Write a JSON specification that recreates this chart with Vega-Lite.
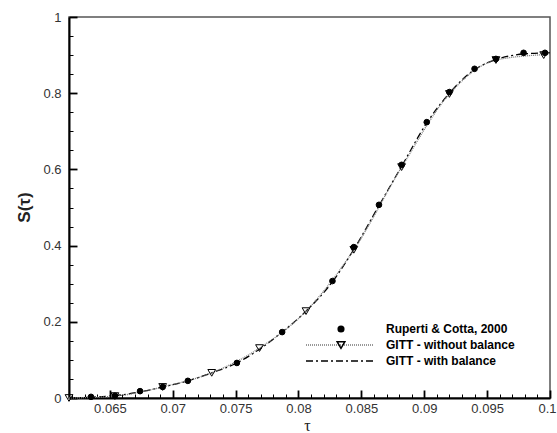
{
  "$schema": "https://vega.github.io/schema/vega-lite/v6.json",
  "width": 481,
  "height": 381,
  "autosize": {"type": "none"},
  "padding": {"left": 69, "top": 17, "right": 7, "bottom": 35},
  "background": "white",
  "config": {"view": {"stroke": "#555", "strokeWidth": 1.5}, "font": "Liberation Sans"},
  "datasets": {
    "lines": [
      {"series": "GITT - with balance", "tau": 0.06175, "S": 0.0},
      {"series": "GITT - with balance", "tau": 0.0635, "S": 0.002},
      {"series": "GITT - with balance", "tau": 0.0654, "S": 0.006},
      {"series": "GITT - with balance", "tau": 0.0674, "S": 0.016},
      {"series": "GITT - with balance", "tau": 0.0692, "S": 0.029},
      {"series": "GITT - with balance", "tau": 0.0712, "S": 0.045},
      {"series": "GITT - with balance", "tau": 0.0731, "S": 0.066},
      {"series": "GITT - with balance", "tau": 0.0751, "S": 0.092},
      {"series": "GITT - with balance", "tau": 0.0769, "S": 0.128},
      {"series": "GITT - with balance", "tau": 0.0787, "S": 0.173},
      {"series": "GITT - with balance", "tau": 0.0806, "S": 0.228},
      {"series": "GITT - with balance", "tau": 0.0827, "S": 0.305},
      {"series": "GITT - with balance", "tau": 0.0844, "S": 0.39},
      {"series": "GITT - with balance", "tau": 0.0864, "S": 0.505},
      {"series": "GITT - with balance", "tau": 0.0882, "S": 0.608},
      {"series": "GITT - with balance", "tau": 0.0902, "S": 0.722},
      {"series": "GITT - with balance", "tau": 0.092, "S": 0.8},
      {"series": "GITT - with balance", "tau": 0.094, "S": 0.862},
      {"series": "GITT - with balance", "tau": 0.0957, "S": 0.888},
      {"series": "GITT - with balance", "tau": 0.0979, "S": 0.903},
      {"series": "GITT - with balance", "tau": 0.1, "S": 0.906},
      {"series": "GITT - without balance", "tau": 0.06175, "S": 0.0},
      {"series": "GITT - without balance", "tau": 0.0654, "S": 0.005},
      {"series": "GITT - without balance", "tau": 0.0692, "S": 0.029},
      {"series": "GITT - without balance", "tau": 0.0731, "S": 0.066},
      {"series": "GITT - without balance", "tau": 0.0769, "S": 0.131},
      {"series": "GITT - without balance", "tau": 0.0806, "S": 0.228},
      {"series": "GITT - without balance", "tau": 0.0844, "S": 0.389},
      {"series": "GITT - without balance", "tau": 0.0882, "S": 0.606},
      {"series": "GITT - without balance", "tau": 0.092, "S": 0.798},
      {"series": "GITT - without balance", "tau": 0.0957, "S": 0.887},
      {"series": "GITT - without balance", "tau": 0.1, "S": 0.902}
    ],
    "points": [
      {"code": "R", "tau": 0.0635, "S": 0.003},
      {"code": "R", "tau": 0.0654, "S": 0.006},
      {"code": "R", "tau": 0.0674, "S": 0.018},
      {"code": "R", "tau": 0.0692, "S": 0.029},
      {"code": "R", "tau": 0.0712, "S": 0.045},
      {"code": "R", "tau": 0.0751, "S": 0.092},
      {"code": "R", "tau": 0.0787, "S": 0.173},
      {"code": "R", "tau": 0.0827, "S": 0.307},
      {"code": "R", "tau": 0.0844, "S": 0.396},
      {"code": "R", "tau": 0.0864, "S": 0.507},
      {"code": "R", "tau": 0.0882, "S": 0.612},
      {"code": "R", "tau": 0.0902, "S": 0.724},
      {"code": "R", "tau": 0.092, "S": 0.803},
      {"code": "R", "tau": 0.094, "S": 0.864},
      {"code": "R", "tau": 0.0957, "S": 0.89},
      {"code": "R", "tau": 0.0979, "S": 0.906},
      {"code": "R", "tau": 0.0996, "S": 0.906},
      {"code": "W", "tau": 0.06175, "S": 0.0},
      {"code": "W", "tau": 0.0654, "S": 0.005},
      {"code": "W", "tau": 0.0692, "S": 0.029},
      {"code": "W", "tau": 0.0731, "S": 0.066},
      {"code": "W", "tau": 0.0769, "S": 0.131},
      {"code": "W", "tau": 0.0806, "S": 0.228},
      {"code": "W", "tau": 0.0844, "S": 0.389},
      {"code": "W", "tau": 0.0882, "S": 0.606},
      {"code": "W", "tau": 0.092, "S": 0.798},
      {"code": "W", "tau": 0.0957, "S": 0.887},
      {"code": "W", "tau": 0.0995, "S": 0.9}
    ]
  },
  "encoding": {
    "x": {
      "field": "tau", "type": "quantitative",
      "scale": {"domain": [0.06175, 0.1], "nice": false, "zero": false},
      "axis": {
        "values": [0.062,0.063,0.064,0.065,0.066,0.067,0.068,0.069,0.07,0.071,0.072,0.073,0.074,0.075,0.076,0.077,0.078,0.079,0.08,0.081,0.082,0.083,0.084,0.085,0.086,0.087,0.088,0.089,0.09,0.091,0.092,0.093,0.094,0.095,0.096,0.097,0.098,0.099,0.1],
        "labelExpr": "round(datum.value*1000) % 5 == 0 ? format(datum.value, '~g') : ''",
        "labelOverlap": false, "labelFlush": true, "labelFlushOffset": 6, "labelBound": false,
        "tickSize": {"condition": {"test": "round(datum.value*1000) % 5 == 0", "value": -8}, "value": -4},
        "tickWidth": {"condition": {"test": "round(datum.value*1000) % 5 == 0", "value": 1.8}, "value": 1},
        "tickColor": "black",
        "domainColor": "black", "domainWidth": 2,
        "grid": false,
        "labelFont": "Liberation Sans", "labelFontSize": 13, "labelColor": "#333",
        "labelPadding": 12,
        "title": "τ", "titleFont": "Liberation Serif", "titleFontSize": 16, "titleFontWeight": "normal", "titleColor": "#222",
        "titleX": 238, "titleY": 27, "titleBaseline": "middle", "titleAlign": "center"
      }
    },
    "y": {
      "field": "S", "type": "quantitative",
      "scale": {"domain": [0, 1], "nice": false, "zero": false},
      "axis": {
        "values": [0,0.05,0.1,0.15,0.2,0.25,0.3,0.35,0.4,0.45,0.5,0.55,0.6,0.65,0.7,0.75,0.8,0.85,0.9,0.95,1],
        "labelExpr": "round(datum.value*100) % 20 == 0 ? format(datum.value, '~g') : ''",
        "labelOverlap": false, "labelFlush": false, "labelBound": false,
        "tickSize": {"condition": {"test": "round(datum.value*100) % 20 == 0", "value": -8}, "value": -4},
        "tickWidth": {"condition": {"test": "round(datum.value*100) % 20 == 0", "value": 1.8}, "value": 1},
        "tickColor": "black",
        "domainColor": "black", "domainWidth": 2,
        "grid": false,
        "labelFont": "Liberation Sans", "labelFontSize": 13, "labelColor": "#333",
        "labelPadding": 16,
        "title": "S(τ)", "titleFont": "Liberation Sans", "titleFontSize": 17, "titleFontWeight": "bold", "titleColor": "#222",
        "titleX": -45, "titleY": 190, "titleBaseline": "middle", "titleAlign": "center", "titleAngle": -90
      }
    }
  },
  "layer": [
    {
      "data": {"name": "lines"},
      "mark": {"type": "line", "interpolate": "monotone", "strokeWidth": 1.3},
      "encoding": {
        "color": {
          "field": "series", "type": "nominal",
          "scale": {"domain": ["Ruperti & Cotta, 2000", "GITT - without balance", "GITT - with balance"], "range": ["black", "#777777", "black"]},
          "legend": {"orient": "none", "legendX": 236, "legendY": 304, "title": null, "symbolType": "stroke", "symbolSize": 4624, "symbolStrokeWidth": 1.3, "labelFont": "Liberation Sans", "labelFontSize": 12, "labelFontWeight": "bold", "labelColor": "black", "labelOffset": 11, "clipHeight": 16, "rowPadding": 0, "padding": 0, "labelLimit": 300}
        },
        "strokeDash": {
          "field": "series", "type": "nominal",
          "scale": {"domain": ["Ruperti & Cotta, 2000", "GITT - without balance", "GITT - with balance"], "range": [[0, 100], [1, 1], [7, 3, 2, 3]]},
          "legend": {"orient": "none", "legendX": 236, "legendY": 304, "title": null, "symbolType": "stroke", "symbolSize": 4624, "symbolStrokeWidth": 1.3, "labelFont": "Liberation Sans", "labelFontSize": 12, "labelFontWeight": "bold", "labelColor": "black", "labelOffset": 11, "clipHeight": 16, "rowPadding": 0, "padding": 0, "labelLimit": 300}
        }
      }
    },
    {
      "data": {"name": "points"},
      "mark": {"type": "point", "filled": true, "stroke": "black", "strokeWidth": 1, "opacity": 1, "clip": false},
      "encoding": {
        "shape": {
          "field": "code", "type": "nominal",
          "scale": {"domain": ["R", "W", "B"], "range": ["circle", "triangle-down", "M0,0"]},
          "legend": {"orient": "none", "legendX": 266, "legendY": 304, "title": null, "labelOpacity": 0, "labelFontSize": 12, "clipHeight": 16, "rowPadding": 0, "padding": 0, "encode": {"symbols": {"update": {"stroke": {"value": "black"}, "strokeWidth": {"value": 1}, "opacity": {"value": 1}}}}}
        },
        "fill": {
          "field": "code", "type": "nominal",
          "scale": {"domain": ["R", "W", "B"], "range": ["black", "transparent", "transparent"]},
          "legend": {"orient": "none", "legendX": 266, "legendY": 304, "title": null, "labelOpacity": 0, "labelFontSize": 12, "clipHeight": 16, "rowPadding": 0, "padding": 0, "encode": {"symbols": {"update": {"stroke": {"value": "black"}, "strokeWidth": {"value": 1}, "opacity": {"value": 1}}}}}
        },
        "size": {
          "field": "code", "type": "nominal",
          "scale": {"type": "ordinal", "domain": ["R", "W", "B"], "range": [32, 60, 0]},
          "legend": {"orient": "none", "legendX": 266, "legendY": 304, "title": null, "labelOpacity": 0, "labelFontSize": 12, "clipHeight": 16, "rowPadding": 0, "padding": 0, "encode": {"symbols": {"update": {"stroke": {"value": "black"}, "strokeWidth": {"value": 1}, "opacity": {"value": 1}}}}}
        }
      }
    }
  ]
}
